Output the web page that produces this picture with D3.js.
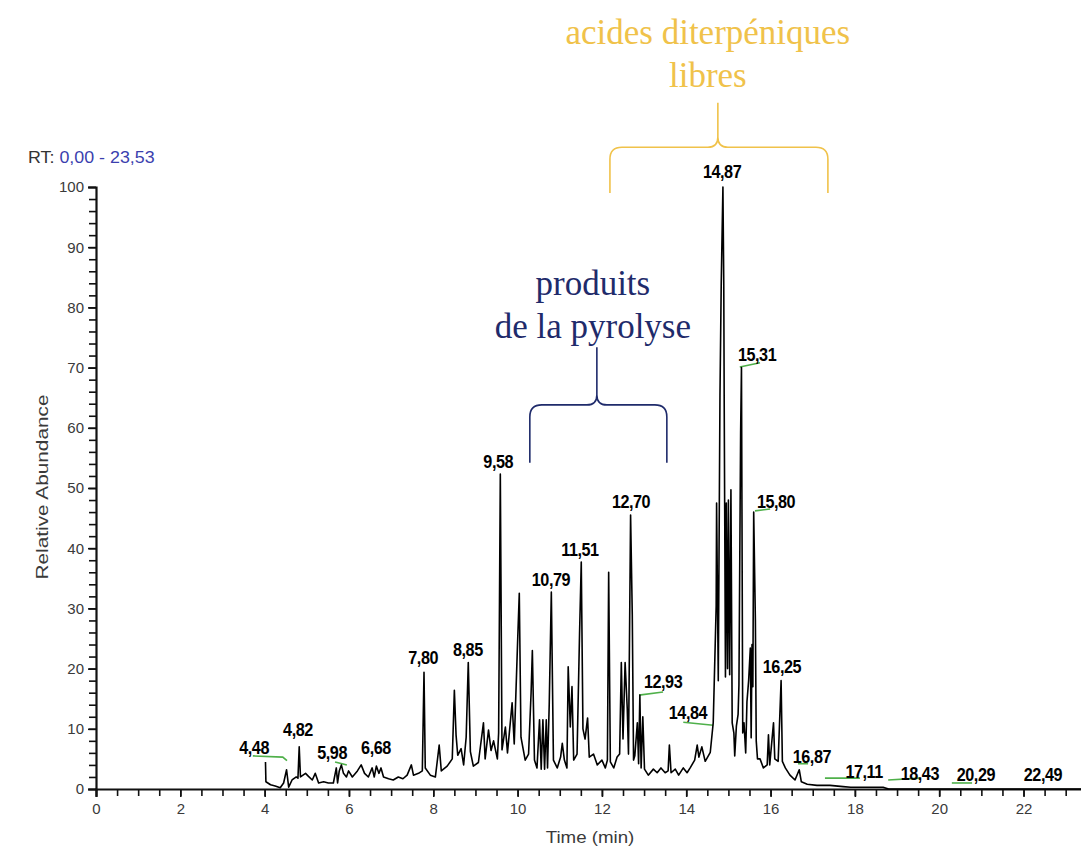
<!DOCTYPE html>
<html>
<head>
<meta charset="utf-8">
<script src="https://cdn.jsdelivr.net/npm/d3@7"></script>
<style>
  html, body { margin: 0; padding: 0; background: #ffffff; }
  svg { display: block; }
</style>
</head>
<body>
<svg id="chart" width="1081" height="851"></svg>
<script>
// ---------------- DATA ----------------
const rtRange = [0, 23.53];
const xMajorTicks = [0, 2, 4, 6, 8, 10, 12, 14, 16, 18, 20, 22];
const xMinorTicks = d3.range(0, 23.6, 0.5);
const yMajorTicks = [0, 10, 20, 30, 40, 50, 60, 70, 80, 90, 100];
const yMinorTicks = d3.range(0, 101, 2);

// chromatogram trace (time in min, relative abundance %)
const traceTime = [
  4.02, 4.03, 4.14, 4.25, 4.37, 4.45, 4.52, 4.57, 4.65, 4.75, 4.79, 4.82, 4.85, 4.97, 5.04, 5.13, 5.20, 5.28,
  5.40, 5.51, 5.63, 5.70, 5.73, 5.77, 5.82, 5.87, 5.94, 5.99, 6.08, 6.20, 6.29, 6.37, 6.46, 6.55, 6.60, 6.65,
  6.71, 6.76, 6.82, 6.94, 7.05, 7.17, 7.28, 7.38, 7.48, 7.53, 7.65, 7.74, 7.78, 7.81, 7.93, 8.05, 8.14, 8.19,
  8.33, 8.45, 8.50, 8.54, 8.58, 8.66, 8.72, 8.78, 8.83, 8.88, 8.95, 9.07, 9.19, 9.23, 9.31, 9.37, 9.43, 9.52,
  9.55, 9.59, 9.63, 9.71, 9.76, 9.87, 9.92, 10.00, 10.04, 10.08, 10.18, 10.26, 10.32, 10.35, 10.40, 10.46,
  10.52, 10.56, 10.60, 10.64, 10.68, 10.71, 10.75, 10.80, 10.85, 10.94, 11.02, 11.06, 11.11, 11.17, 11.20,
  11.25, 11.29, 11.33, 11.41, 11.47, 11.51, 11.55, 11.60, 11.66, 11.70, 11.80, 11.89, 12.00, 12.08, 12.13,
  12.16, 12.20, 12.28, 12.36, 12.42, 12.46, 12.50, 12.55, 12.60, 12.63, 12.68, 12.72, 12.75, 12.78, 12.84,
  12.87, 12.90, 12.93, 12.97, 13.01, 13.10, 13.22, 13.31, 13.40, 13.50, 13.57, 13.60, 13.64, 13.74, 13.82,
  13.93, 14.02, 14.10, 14.20, 14.26, 14.30, 14.37, 14.45, 14.57, 14.64, 14.67, 14.71, 14.72, 14.76, 14.80,
  14.83, 14.87, 14.89, 14.90, 14.93, 14.95, 14.98, 15.00, 15.03, 15.06, 15.09, 15.13, 15.15, 15.19, 15.23,
  15.25, 15.29, 15.31, 15.34, 15.37, 15.41, 15.44, 15.48, 15.52, 15.54, 15.56, 15.58, 15.60, 15.64, 15.66,
  15.69, 15.75, 15.83, 15.92, 15.95, 15.98, 16.07, 16.10, 16.18, 16.25, 16.28, 16.35, 16.46, 16.58, 16.68,
  16.73, 16.87, 17.10, 17.41, 17.72, 17.90, 18.44, 18.67, 18.80, 23.53
];
const traceAbund = [
  4.5, 1.2, 0.7, 0.5, 0.2, 1.0, 3.2, 0.3, 1.5, 2.0, 1.8, 7.0, 2.0, 2.6, 2.1, 1.5, 2.6, 1.0,
  1.2, 1.0, 1.0, 3.5, 1.0, 3.0, 4.0, 2.6, 2.0, 3.0, 2.0, 3.0, 4.0, 2.6, 2.0, 3.5, 2.0, 3.8,
  2.6, 3.5, 2.0, 1.7, 1.5, 2.0, 1.7, 2.3, 4.0, 2.3, 2.6, 3.0, 19.4, 3.5, 2.3, 2.0, 7.3, 3.0,
  3.8, 5.0, 16.4, 9.0, 5.6, 6.7, 4.0, 8.6, 21.0, 6.2, 3.8, 4.4, 11.0, 5.0, 9.8, 6.4, 8.0, 5.0,
  9.3, 52.3, 6.5, 10.3, 6.0, 14.3, 7.5, 24.4, 32.5, 8.6, 4.8, 5.8, 16.0, 23.0, 4.8, 3.5,
  11.5, 3.3, 11.5, 3.3, 11.5, 3.5, 14.0, 32.7, 4.8, 3.5, 5.3, 7.6, 4.8, 3.5, 20.3,
  10.3, 17.0, 4.8, 5.8, 26.0, 37.7, 10.0, 8.3, 11.8, 5.3, 5.8, 4.0, 4.8, 3.5, 4.8,
  36.0, 4.5, 3.5, 5.3, 5.8, 21.0, 8.3, 21.0, 13.5, 5.8, 45.5, 29.0, 4.8, 5.5, 11.0,
  4.2, 15.6, 3.5, 12.0, 3.3, 2.3, 3.3, 2.7, 3.5, 2.7, 3.0, 7.3, 2.7, 3.3, 2.3,
  3.5, 2.7, 3.6, 4.8, 7.3, 5.3, 7.0, 4.6, 6.1, 11.0, 19.3, 30.4, 47.5, 18.0, 65.4,
  84.0, 100.0, 84.0, 65.0, 18.6, 47.5, 20.0, 48.0, 19.0, 49.7, 11.0, 9.3, 5.5, 10.5, 12.4,
  17.3, 59.3, 70.0, 9.3, 11.0, 6.0, 14.5, 18.0, 23.4, 8.5, 24.0, 17.0, 46.0, 28.0, 8.0,
  5.0, 5.0, 3.5, 4.0, 9.0, 4.0, 11.0, 5.0, 4.6, 18.0, 4.6, 3.5, 2.3, 1.5, 3.2,
  1.2, 0.8, 0.6, 0.6, 0.4, 0.3, 0.3, 0.3, 0.0, 0.0
];

// peak labels: text, anchor time, anchor abundance (baseline of text)
const peakLabelText = ["4,48", "4,82", "5,98", "6,68", "7,80", "8,85", "9,58", "10,79", "11,51", "12,70",
  "12,93", "14,84", "14,87", "15,31", "15,80", "16,25", "16,87", "17,11", "18,43", "20,29", "22,49"];
const peakLabelTime = [3.75, 4.79, 5.60, 6.64, 7.76, 8.82, 9.54, 10.79, 11.48, 12.69,
  13.45, 14.04, 14.85, 15.68, 16.13, 16.27, 16.98, 18.22, 19.54, 20.87, 22.46];
const peakLabelAbund = [5.8, 8.8, 5.0, 5.8, 20.8, 22.1, 53.3, 33.7, 38.7, 46.7,
  16.8, 11.6, 101.5, 71.1, 46.7, 19.3, 4.3, 1.8, 1.5, 1.3, 1.3];

// green leader lines linking labels to peaks: [time, abundance] vertices
const leaderLines = [
  [[3.72, 5.5], [4.43, 5.3], [4.53, 4.7]],
  [[5.67, 4.5], [5.95, 4.0]],
  [[12.88, 15.6], [13.45, 16.1]],
  [[13.93, 11.1], [14.64, 10.6]],
  [[15.27, 70.1], [15.75, 70.8]],
  [[15.63, 46.2], [15.99, 46.5]],
  [[16.65, 4.2], [16.89, 4.2]],
  [[17.29, 1.8], [18.12, 1.8]],
  [[18.79, 1.5], [19.54, 1.8]],
  [[20.30, 1.0], [20.78, 1.0]]
];

// group annotations (braces), in data units: start, end, cusp time, foot, bar, tip abundance
const groupNames = [["produits", "de la pyrolyse"], ["acides diterpéniques", "libres"]];
const groupStart = [10.29, 12.19];
const groupEnd = [13.54, 17.36];
const groupCusp = [11.88, 14.75];
const groupFoot = [54.2, 99.0];
const groupBar = [63.8, 106.6];
const groupTip = [73.4, 114.0];
const groupColor = ["#1f2b6b", "#f0c24a"];

// ---------------- CHART ----------------
const svg = d3.select("#chart");
svg.append("rect").attr("width", 1081).attr("height", 851).attr("fill", "#ffffff");

const x = d3.scaleLinear().domain(rtRange).range([96, 96 + 23.53 * 42.16]);
const y = d3.scaleLinear().domain([0, 100]).range([789, 187]);

const tickFont = "Liberation Sans, Arial, sans-serif";

// minor ticks x
svg.append("g").attr("transform", "translate(0,789)")
  .call(d3.axisBottom(x).tickValues(xMinorTicks).tickSize(7).tickFormat(""))
  .call(g => g.select(".domain").remove())
  .call(g => g.selectAll("line").attr("stroke", "#111").attr("stroke-width", 1.6));
// major x
const gx = svg.append("g").attr("transform", "translate(0,789)")
  .call(d3.axisBottom(x).tickValues(xMajorTicks).tickSize(8).tickPadding(6).tickFormat(d3.format("d")));
gx.select(".domain").attr("stroke", "#111").attr("stroke-width", 2.2);
gx.selectAll("line").attr("stroke", "#111").attr("stroke-width", 1.6);
gx.selectAll("text").attr("font-family", tickFont).attr("font-size", 15).attr("fill", "#3a3a3a");

// minor y
svg.append("g").attr("transform", "translate(96,0)")
  .call(d3.axisLeft(y).tickValues(yMinorTicks).tickSize(7).tickFormat(""))
  .call(g => g.select(".domain").remove())
  .call(g => g.selectAll("line").attr("stroke", "#111").attr("stroke-width", 1.6));
const gy = svg.append("g").attr("transform", "translate(96,0)")
  .call(d3.axisLeft(y).tickValues(yMajorTicks).tickSize(8).tickPadding(4).tickFormat(d3.format("d")));
gy.select(".domain").attr("stroke", "#111").attr("stroke-width", 2.2);
gy.selectAll("line").attr("stroke", "#111").attr("stroke-width", 1.6);
gy.selectAll("text").attr("font-family", tickFont).attr("font-size", 15).attr("fill", "#3a3a3a");

// axis titles
svg.append("text").attr("transform", "translate(590,843) scale(1.1,1)").attr("text-anchor", "middle")
  .attr("font-family", tickFont).attr("font-size", 17).attr("fill", "#3a3a3a").text("Time (min)");
svg.append("text").attr("transform", "translate(48,487) rotate(-90) scale(1.3,1)").attr("text-anchor", "middle")
  .attr("font-family", tickFont).attr("font-size", 16).attr("fill", "#3a3a3a").text("Relative Abundance");

// RT header
const rt = svg.append("text").attr("transform", "translate(28,163) scale(1.05,1)")
  .attr("font-family", tickFont).attr("font-size", 17).attr("fill", "#333");
rt.append("tspan").text("RT: ");
rt.append("tspan").attr("fill", "#3b3fae").text("0,00 - 23,53");

// leader lines
const ptLine = d3.line().x(d => x(d[0])).y(d => y(d[1]));
svg.append("g").selectAll("path").data(leaderLines).join("path")
  .attr("d", ptLine).attr("fill", "none").attr("stroke", "#4fb04a").attr("stroke-width", 1.6);

// trace
const traceData = traceTime.map((t, i) => [t, traceAbund[i]]);
svg.append("path").datum(traceData)
  .attr("d", d3.line().x(d => x(d[0])).y(d => y(d[1])))
  .attr("fill", "none").attr("stroke", "#000").attr("stroke-width", 1.6).attr("stroke-linejoin", "round");

// peak labels
svg.append("g").selectAll("text").data(peakLabelText).join("text")
  .attr("transform", (d, i) => `translate(${x(peakLabelTime[i])},${y(peakLabelAbund[i])}) scale(0.9,1)`)
  .attr("text-anchor", "middle").attr("font-family", tickFont).attr("font-weight", "bold")
  .attr("font-size", 18).attr("letter-spacing", -0.5).attr("fill", "#000").text(d => d);

// group braces
groupNames.forEach((lines, i) => {
  const x0 = x(groupStart[i]), x1 = x(groupEnd[i]), xc = x(groupCusp[i]);
  const yf = y(groupFoot[i]), yb = y(groupBar[i]), yt = y(groupTip[i]);
  const r = 12, rc = 10;
  const p = d3.path();
  p.moveTo(x0, yf);
  p.lineTo(x0, yb + r);
  p.quadraticCurveTo(x0, yb, x0 + r, yb);
  p.lineTo(xc - rc, yb);
  p.quadraticCurveTo(xc, yb, xc, yb - rc);
  p.lineTo(xc, yt);
  p.moveTo(xc, yb - rc);
  p.quadraticCurveTo(xc, yb, xc + rc, yb);
  p.lineTo(x1 - r, yb);
  p.quadraticCurveTo(x1, yb, x1, yb + r);
  p.lineTo(x1, yf);
  svg.append("path").attr("d", p.toString()).attr("fill", "none")
    .attr("stroke", groupColor[i]).attr("stroke-width", 1.6);
  const t = svg.append("text").attr("text-anchor", "middle")
    .attr("font-family", "Liberation Serif, Times New Roman, serif").attr("font-size", 35)
    .attr("fill", groupColor[i]);
  const lineGap = 43;
  const baseY = yt - (i === 0 ? 9 : 16) - lineGap;
  lines.forEach((s, k) => {
    t.append("tspan").attr("x", xc + (i === 0 ? -4 : -10)).attr("y", baseY + k * lineGap).text(s);
  });
});
</script>
</body>
</html>
